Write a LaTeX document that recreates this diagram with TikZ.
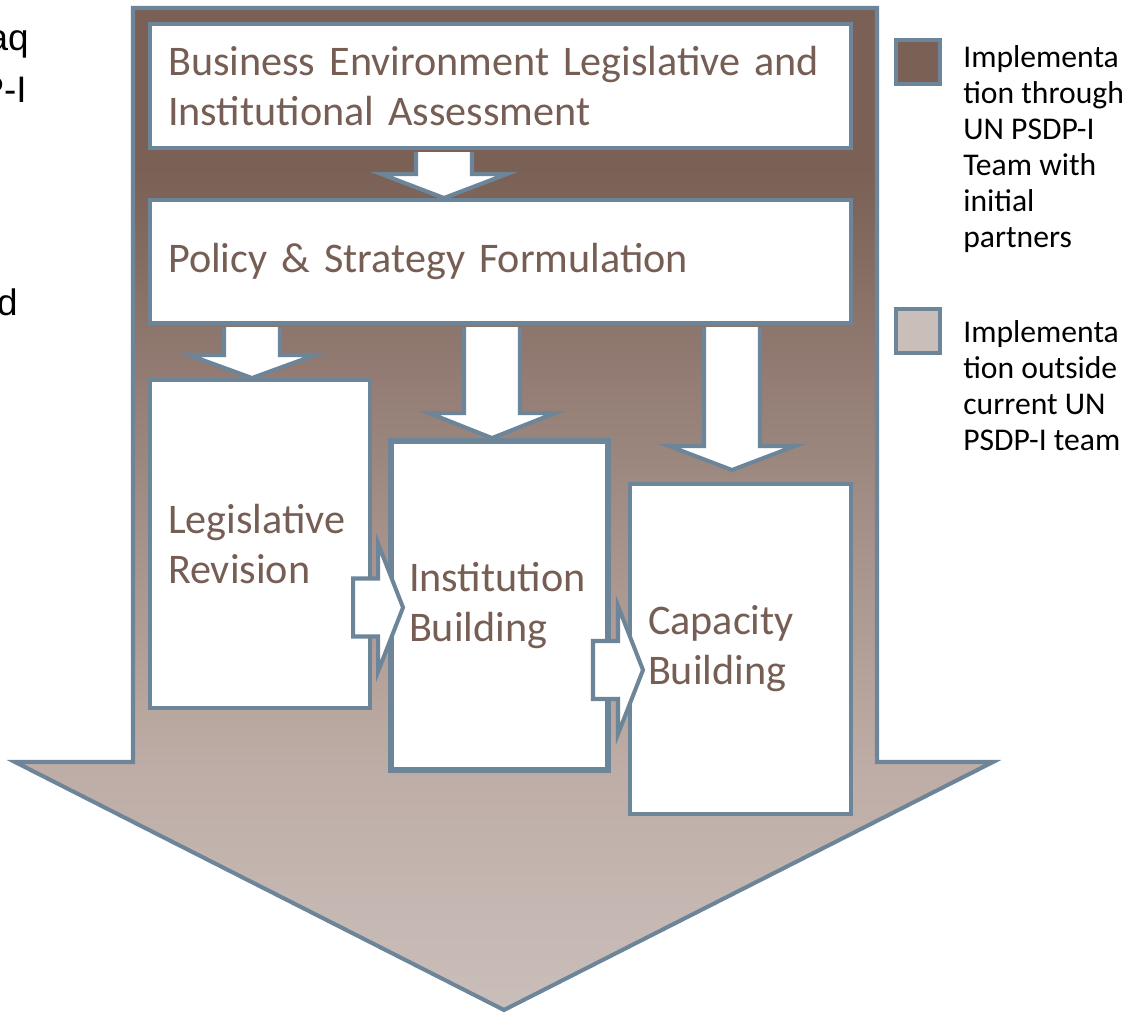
\documentclass[tikz,border=0pt]{standalone}
\usepackage{fontspec}
\setmainfont{Carlito}
\newfontfamily\arialfont{Liberation Sans}
\usetikzlibrary{calc}

\definecolor{darkbrn}{HTML}{7A6055}
\definecolor{midbrn}{HTML}{A28E86}
\definecolor{lowbrn}{HTML}{BEADA6}
\definecolor{lightbrn}{HTML}{CABEBA}
\definecolor{edgeblue}{HTML}{6D8599}
\definecolor{txtbrn}{HTML}{765E54}

\pgfdeclareverticalshading{arrowfade}{100bp}{color(0bp)=(lightbrn); color(25bp)=(lightbrn); color(37bp)=(lowbrn); color(50bp)=(midbrn); color(67bp)=(darkbrn); color(100bp)=(darkbrn)}

\newcommand{\dnblk}[3]{\draw[blkarrow] ($(#1)+(-28,2)$) -- ($(#2)+(-28,-#3)$) -- ($(#2)+(-63,-#3)$) -- (#2) -- ($(#2)+(63,-#3)$) -- ($(#2)+(28,-#3)$) -- ($(#1)+(28,2)$);}
\newcommand{\rtblk}[1]{\draw[blkarrow] ($(#1)+(-50,-29)$) -- ($(#1)+(-25,-29)$) -- ($(#1)+(-25,-64)$) -- (#1) -- ($(#1)+(-25,64)$) -- ($(#1)+(-25,29)$) -- ($(#1)+(-50,29)$) -- cycle;}

\begin{document}
\begin{tikzpicture}[x=0.02cm, y=-0.02cm,
    box/.style={draw=edgeblue, line width=2.3pt, fill=white, text=txtbrn, font=\fontsize{24}{28.4}\selectfont, align=left, inner xsep=0.36cm, inner ysep=0pt},
    blkarrow/.style={draw=edgeblue, line width=2.3pt, fill=white},
    keybox/.style={draw=edgeblue, line width=2.3pt, minimum size=0.88cm, inner sep=0pt},
    keytext/.style={font=\fontsize{18}{20.5}\selectfont, align=left, inner sep=0pt, anchor=north west},
    cuttext/.style={font=\arialfont\fontsize{21}{24}\selectfont, inner sep=0pt, anchor=base east}]
    \useasboundingbox (0,0) rectangle (1139,1014);
    \draw[draw=edgeblue, line width=2.3pt, shading=arrowfade] (133,8) -- (877,8) -- (877,762) -- (993,762) -- (504,1010) -- (15,762) -- (133,762) -- cycle;
    \node[box, minimum width=14.02cm, minimum height=2.48cm, text width=13.3cm] (bea) at (500.5,86) {Business Environment Legislative and\\Institutional Assessment};
    \node[box, minimum width=14.02cm, minimum height=2.46cm, text width=13.3cm] (psf) at (500.5,261.5) {Policy \& Strategy Formulation};
    \node[box, minimum width=4.4cm, minimum height=6.56cm, text width=3.68cm] (lr) at (260,544) {Legislative\\Revision};
    \node[box, line width=3.4pt, minimum width=4.34cm, minimum height=6.58cm, text width=3.62cm] (ib) at (499.5,605.5) {Institution\\Building};
    \node[box, minimum width=4.42cm, minimum height=6.6cm, text width=3.7cm] (cb) at (740.5,649) {Capacity\\Building};
    \coordinate (a1) at (444,0);
    \coordinate (a2) at (252,0);
    \coordinate (a3) at (492,0);
    \coordinate (a4) at (732,0);
    \coordinate (t4) at ($(a4 |- cb.north)+(0,-12)$);
    \dnblk{a1 |- bea.south}{a1 |- psf.north}{24}
    \dnblk{a2 |- psf.south}{a2 |- lr.north}{23}
    \dnblk{a3 |- psf.south}{a3 |- ib.north}{25}
    \dnblk{a4 |- psf.south}{t4}{24}
    \coordinate (r1) at ($(ib.west)+(15,2)$);
    \coordinate (r2) at ($(cb.west)+(15,21)$);
    \rtblk{r1}
    \rtblk{r2}
    \node[keybox, fill=darkbrn] (k1) at (918,62) {};
    \node[keybox, fill=lightbrn] (k2) at (918,331) {};
    \node[keytext] (k1t) at (963,45) {Implementa\\tion through\\UN PSDP-I\\Team with\\initial\\partners};
    \node[keytext] (k2t) at (963,320) {Implementa\\tion outside\\current UN\\PSDP-I team};
    \node[cuttext] (c1) at (29,51) {aq};
    \node[cuttext] (c2) at (27,102) {P-I};
    \node[cuttext] (c3) at (18,315) {d};
\end{tikzpicture}
\end{document}
